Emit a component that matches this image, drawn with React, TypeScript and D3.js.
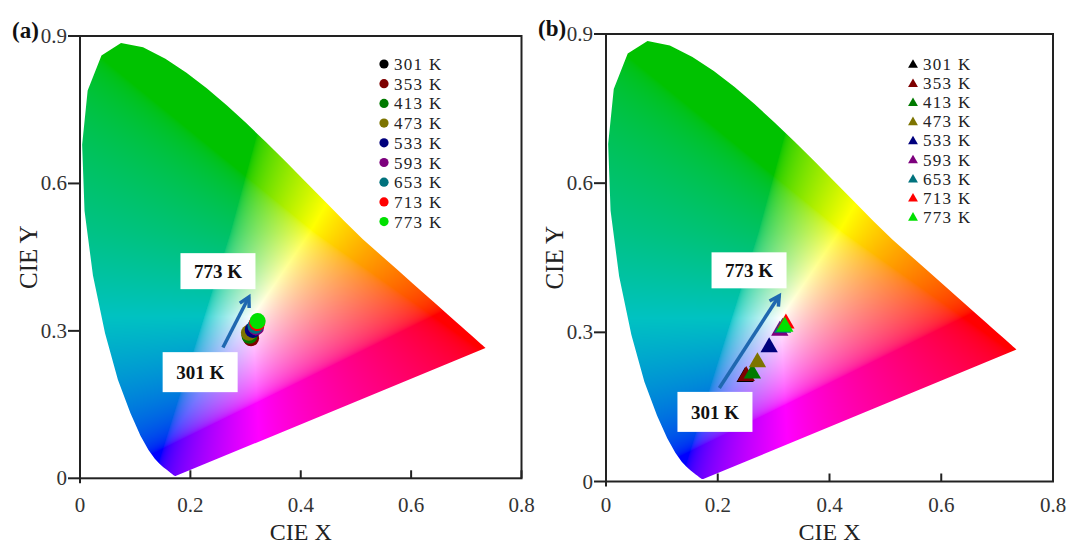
import { useMemo } from "react";
import * as d3 from "d3";

// CIE 1931 spectral locus, 380-700 nm
const locusX = [
  0.1741, 0.174, 0.1738, 0.1736, 0.1733, 0.173, 0.1726, 0.1721, 0.1714, 0.1703, 0.1689, 0.1669, 0.1644,
  0.1611, 0.1566, 0.151, 0.144, 0.1355, 0.1241, 0.1096, 0.0913, 0.0687, 0.0454, 0.0235, 0.0082, 0.0039,
  0.0139, 0.0389, 0.0743, 0.1142, 0.1547, 0.1929, 0.2296, 0.2658, 0.3016, 0.3373, 0.3731, 0.4087, 0.4441,
  0.4788, 0.5125, 0.5448, 0.5752, 0.6029, 0.627, 0.6482, 0.6658, 0.6801, 0.6915, 0.7006, 0.7079, 0.714,
  0.719, 0.723, 0.726, 0.7283, 0.73, 0.7311, 0.732, 0.7327, 0.7334, 0.7344, 0.7347,
];
const locusY = [
  0.005, 0.005, 0.0049, 0.0049, 0.0048, 0.0048, 0.0048, 0.0048, 0.0051, 0.0058, 0.0069, 0.0086, 0.0109,
  0.0138, 0.0177, 0.0227, 0.0297, 0.0399, 0.0578, 0.0868, 0.1327, 0.2007, 0.295, 0.4127, 0.5384, 0.6548,
  0.7502, 0.812, 0.8338, 0.8262, 0.8059, 0.7816, 0.7543, 0.7243, 0.6923, 0.6589, 0.6245, 0.5896, 0.5547,
  0.5202, 0.4866, 0.4544, 0.4242, 0.3965, 0.3725, 0.3514, 0.334, 0.3197, 0.3083, 0.2993, 0.292, 0.2859,
  0.2809, 0.277, 0.274, 0.2717, 0.27, 0.2689, 0.268, 0.2673, 0.2666, 0.2656, 0.2653,
];

const temps = ["301 K", "353 K", "413 K", "473 K", "533 K", "593 K", "653 K", "713 K", "773 K"];
const tempColors = ["#000000", "#7d0000", "#007a00", "#7d7400", "#00007d", "#7d007d", "#00727d", "#ff0000", "#00e000"];

// (a) circles
const circleX = [0.309, 0.31, 0.307, 0.306, 0.313, 0.319, 0.318, 0.321, 0.322];
const circleY = [0.287, 0.285, 0.29, 0.296, 0.302, 0.307, 0.31, 0.316, 0.32];

// (b) triangles
const triX = [0.249, 0.251, 0.262, 0.271, 0.292, 0.311, 0.316, 0.322, 0.32];
const triY = [0.21, 0.212, 0.217, 0.24, 0.27, 0.303, 0.309, 0.318, 0.311];

const xTicks = [0, 0.2, 0.4, 0.6, 0.8];
const yTicks = [0, 0.3, 0.6, 0.9];

const serif = "'Liberation Serif', 'Times New Roman', serif";

function toSrgb(c: number) {
  return c <= 0.0031308 ? 12.92 * c : 1.055 * Math.pow(c, 1 / 2.4) - 0.055;
}

// background picture: colour of every pixel from its chromaticity
function gamutImage(xs: any, ys: any, left: number, top: number, w: number, h: number) {
  const canvas = document.createElement("canvas");
  canvas.width = w;
  canvas.height = h;
  const ctx = canvas.getContext("2d");
  if (!ctx) return "";
  const img = ctx.createImageData(w, h);
  for (let j = 0; j < h; j++) {
    for (let i = 0; i < w; i++) {
      const x = xs.invert(left + i + 0.5);
      const y = Math.max(ys.invert(top + j + 0.5), 0.002);
      const X = x / y;
      const Z = (1 - x - y) / y;
      let r = Math.max(3.2406 * X - 1.5372 - 0.4986 * Z, 0);
      let g = Math.max(-0.9689 * X + 1.8758 + 0.0415 * Z, 0);
      let b = Math.max(0.0557 * X - 0.204 + 1.057 * Z, 0);
      const m = Math.max(r, g, b) || 1;
      r = toSrgb(r / m);
      g = toSrgb(g / m);
      b = toSrgb(b / m);
      // greens and cyans are a little deeper in the original
      const f = 1 - 0.24 * Math.max(0, g - r);
      const k = (j * w + i) * 4;
      img.data[k] = Math.round(255 * r * f);
      img.data[k + 1] = Math.round(255 * g * f);
      img.data[k + 2] = Math.round(255 * b * f);
      img.data[k + 3] = 255;
    }
  }
  ctx.putImageData(img, 0, 0);
  return canvas.toDataURL();
}

type PanelProps = {
  id: string;
  label: string;
  left: number;
  right: number;
  top: number;
  bottom: number;
  marker: "circle" | "triangle";
  xs: number[];
  ys: number[];
  legendX: number;
  legendY: number;
  legendStep: number;
  arrow: [number, number, number, number];
  hiBox: [number, number];
  loBox: [number, number];
  yTitleX: number;
};

const Panel = (p: PanelProps) => {
  const x = d3.scaleLinear().domain([0, 0.8]).range([p.left, p.right]);
  const y = d3.scaleLinear().domain([0, 0.9]).range([p.bottom, p.top]);
  // the diagram picture in the original is stretched toward its top
  const yBg = d3.scaleLinear().domain([0, 0.5, 0.834]).range([y(0), y(0.5), y(0.886)]);

  const w = Math.round(p.right - p.left);
  const h = Math.round(p.bottom - p.top);
  const url = useMemo(() => gamutImage(x, yBg, p.left, p.top, w, h), [p.left, p.right, p.top, p.bottom]);

  const locus = d3
    .line<number>()
    .x((_, i) => x(locusX[i]))
    .y((_, i) => yBg(locusY[i]))
    .curve(d3.curveLinearClosed)(locusX);

  const tri = (size: number) => d3.symbol(d3.symbolTriangle).size(size)();
  const markerEl = (cx: number, cy: number, color: string, big: boolean, key: number) =>
    p.marker === "circle" ? (
      <circle key={key} cx={cx} cy={cy} r={big ? 8 : 4.6} fill={color} />
    ) : (
      <path key={key} d={tri(big ? 130 : 42) || ""} transform={`translate(${cx},${cy})`} fill={color} />
    );

  const [ax0, ay0, ax1, ay1] = p.arrow;
  const tx = x(ax0), ty = y(ay0), hx = x(ax1), hy = y(ay1);
  const ang = Math.atan2(hy - ty, hx - tx);
  const hl = 11;
  const head = [
    [hx - hl * Math.cos(ang - 0.5), hy - hl * Math.sin(ang - 0.5)],
    [hx, hy],
    [hx - hl * Math.cos(ang + 0.5), hy - hl * Math.sin(ang + 0.5)],
  ];

  const box = (c: [number, number], bh: number, text: string) => (
    <g transform={`translate(${x(c[0])},${y(c[1])})`}>
      <rect x={-37.5} y={-bh / 2} width={75} height={bh} fill="#fff" />
      <text y={7} textAnchor="middle" fontFamily={serif} fontWeight="bold" fontSize={19} fill="#111">
        {text}
      </text>
    </g>
  );

  return (
    <g>
      <defs>
        <clipPath id={`locus-${p.id}`}>
          <path d={locus || ""} />
        </clipPath>
      </defs>
      <image
        href={url}
        x={p.left}
        y={p.top}
        width={w}
        height={h}
        clipPath={`url(#locus-${p.id})`}
        preserveAspectRatio="none"
      />

      {p.xs.map((v, i) => markerEl(x(v), y(p.ys[i]), tempColors[i], true, i))}

      <line x1={tx} y1={ty} x2={hx} y2={hy} stroke="#1f68b0" strokeWidth={3.5} />
      <polyline
        points={head.map((d) => d.join(",")).join(" ")}
        fill="none"
        stroke="#1f68b0"
        strokeWidth={3.5}
      />
      {box(p.hiBox, 36, "773 K")}
      {box(p.loBox, 40, "301 K")}

      {temps.map((t, i) => (
        <g key={t} transform={`translate(${p.legendX},${p.legendY + i * p.legendStep})`}>
          {markerEl(0, p.marker === "circle" ? 0 : 1, tempColors[i], false, i)}
          <text x={10} y={6} fontFamily={serif} fontSize={17} letterSpacing={1.3} fill="#222">
            {t}
          </text>
        </g>
      ))}

      <rect x={p.left} y={p.top} width={p.right - p.left} height={p.bottom - p.top} fill="none" stroke="#222" strokeWidth={2} />
      <line x1={p.left} x2={p.left} y1={p.bottom} y2={p.bottom + 5} stroke="#222" strokeWidth={2} />
      {xTicks.map((t) => (
        <g key={`x${t}`}>
          <line x1={x(t)} x2={x(t)} y1={p.bottom} y2={p.bottom - 8} stroke="#222" strokeWidth={2} />
          <text x={x(t)} y={512} textAnchor="middle" fontFamily={serif} fontSize={21} fill="#333">
            {String(t)}
          </text>
        </g>
      ))}
      {yTicks.map((t) => (
        <g key={`y${t}`}>
          <line x1={p.left - 12} x2={p.left} y1={y(t)} y2={y(t)} stroke="#222" strokeWidth={2} />
          <text x={p.left - 13} y={y(t) + 7} textAnchor="end" fontFamily={serif} fontSize={21} fill="#333">
            {String(t)}
          </text>
        </g>
      ))}
      <text x={(p.left + p.right) / 2} y={539.5} textAnchor="middle" fontFamily={serif} fontSize={24} fill="#222">
        CIE X
      </text>
      <text
        transform={`translate(${p.yTitleX},${(p.top + p.bottom) / 2}) rotate(-90)`}
        textAnchor="middle"
        fontFamily={serif}
        fontSize={25}
        fill="#222"
      >
        CIE Y
      </text>
      <text x={p.left - 68} y={p.top + 2} fontFamily={serif} fontWeight="bold" fontSize={23} fill="#111">
        {p.label}
      </text>
    </g>
  );
};

export default function App() {
  return (
    <svg width={1068} height={545} style={{ position: "absolute", left: 0, top: 0, background: "#fff" }}>
      <Panel
        id="a"
        label="(a)"
        left={80}
        right={521.5}
        top={36}
        bottom={478.3}
        marker="circle"
        xs={circleX}
        ys={circleY}
        legendX={384}
        legendY={64}
        legendStep={19.7}
        arrow={[0.259, 0.266, 0.306, 0.369]}
        hiBox={[0.25, 0.4215]}
        loBox={[0.2177, 0.216]}
        yTitleX={37}
      />
      <Panel
        id="b"
        label="(b)"
        left={606}
        right={1053}
        top={34}
        bottom={481.5}
        marker="triangle"
        xs={triX}
        ys={triY}
        legendX={913}
        legendY={64}
        legendStep={19.1}
        arrow={[0.2028, 0.188, 0.31, 0.3736]}
        hiBox={[0.256, 0.4247]}
        loBox={[0.195, 0.14]}
        yTitleX={563}
      />
    </svg>
  );
}
